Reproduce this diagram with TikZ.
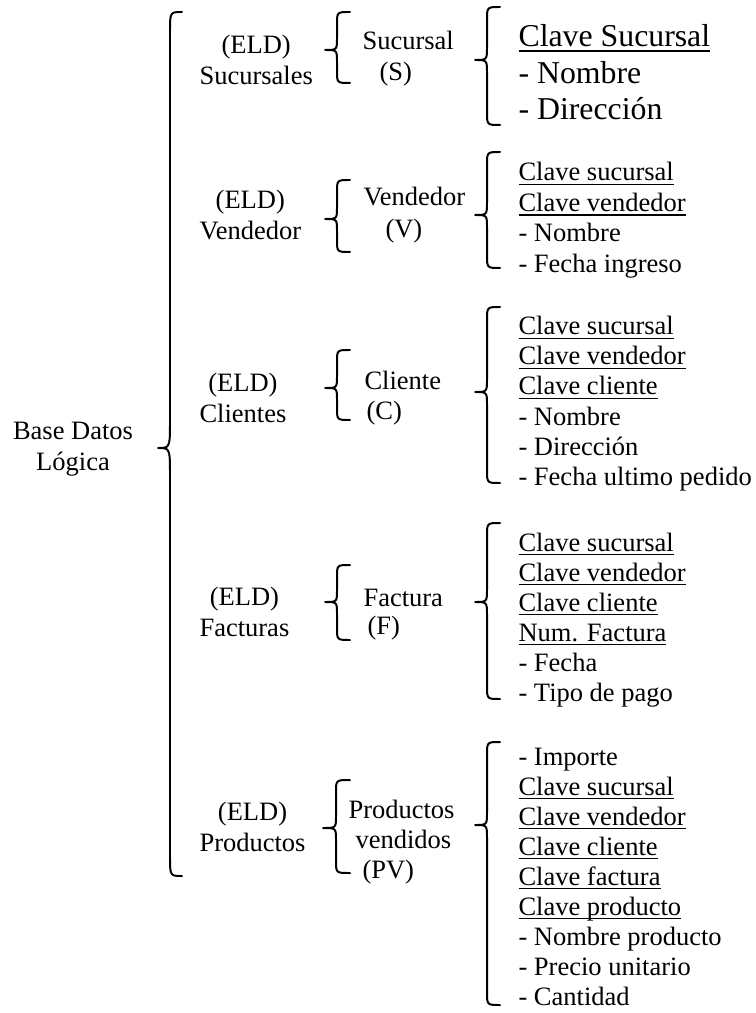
\documentclass[tikz,border=0pt]{standalone}
\usepackage{fontspec}
\setmainfont{Liberation Serif}
\newcommand\ulin[1]{\setbox0\hbox{#1}\rlap{\rule[-0.16em]{\wd0}{0.055em}}\box0}
% brace: xt, xv, xe, ytop, ymid, ybot, rend, rmid
\newcommand\dbrace[8]{%
  \draw[brc] (#3,#4) .. controls (#2,#4) .. (#2,{#4+#7})
    -- (#2,{#5-#8}) .. controls (#2,#5) .. (#1,#5)
    .. controls (#2,#5) .. (#2,{#5+#8})
    -- (#2,{#6-#7}) .. controls (#2,#6) .. (#3,#6);}
\tikzset{
  brc/.style={line width=0.75pt, line join=round, line cap=round},
  txt/.style={inner sep=0pt, font=\fontsize{10}{11.5}\selectfont},
  big/.style={inner sep=0pt, font=\fontsize{12}{13.8}\selectfont, anchor=base west},
  lbl/.style={txt, align=center, anchor=west},
  item/.style={txt, anchor=base west},
}
\begin{document}
\begin{tikzpicture}[x=0.37736pt, y=-0.37736pt]
\useasboundingbox (0,0) rectangle (756,1013);

% root
\node[txt, align=center] (root) at (73,449) {Base Datos\\Lógica};
\dbrace{158}{170}{182}{12}{448}{876}{20}{28}

% level 2 labels
\node[lbl] (l2s) at (199,60) {(ELD)\\Sucursales};
\node[lbl] (l2v) at (199,215) {(ELD)\\Vendedor};
\node[lbl] (l2c) at (199,398) {(ELD)\\Clientes};
\node[lbl] (l2f) at (199,612) {(ELD)\\Facturas};
\node[lbl] (l2p) at (199,827) {(ELD)\\Productos};

% level 2 braces
\dbrace{325}{337}{350}{12}{50}{83}{12}{12}
\dbrace{325}{337}{350}{180}{219}{252}{12}{12}
\dbrace{325}{337}{350}{350}{388}{420}{12}{12}
\dbrace{325}{337}{350}{565}{602}{640}{12}{12}
\dbrace{323}{336}{350}{780}{828}{873}{12}{12}

% level 3 labels
\node[item] (s1) at (362,50) {Sucursal};
\node[item] (s2) at (379,81) {(S)};
\node[item] (v1) at (363,206) {Vendedor};
\node[item] (v2) at (385,238) {(V)};
\node[item] (c1) at (364,390) {Cliente};
\node[item] (c2) at (366,420) {(C)};
\node[item] (f1) at (363,606) {Factura};
\node[item] (f2) at (367,634) {(F)};
\node[item] (p1) at (348,818) {Productos};
\node[item] (p2) at (355,848) {vendidos};
\node[item] (p3) at (362,878) {(PV)};

% level 3 braces
\dbrace{475}{487}{500}{7}{60}{125}{13}{13}
\dbrace{475}{487}{500}{152}{215}{268}{13}{13}
\dbrace{475}{487}{500}{307}{392}{483}{13}{13}
\dbrace{475}{487}{500}{523}{602}{699}{13}{13}
\dbrace{475}{487}{500}{742}{825}{1005}{13}{13}

% attribute lists
\node[big] (as1) at (518,47) {\ulin{Clave Sucursal}};
\node[big] (as2) at (518,83.5) {- Nombre};
\node[big] (as3) at (518,120) {- Dirección};

\foreach \t/\u [count=\i from 0] in {Clave sucursal/1, Clave vendedor/1, - Nombre/0, - Fecha ingreso/0}
  \node[item] (av\i) at (518,{181+30.5*\i}) {\ifnum\u=1 \ulin{\t}\else\t\fi};

\foreach \t/\u [count=\i from 0] in {Clave sucursal/1, Clave vendedor/1, Clave cliente/1, - Nombre/0, - Dirección/0, - Fecha ultimo pedido/0}
  \node[item] (ac\i) at (518,{335+30*\i}) {\ifnum\u=1 \ulin{\t}\else\t\fi};

\foreach \t/\u [count=\i from 0] in {Clave sucursal/1, Clave vendedor/1, Clave cliente/1, Num. Factura/1, - Fecha/0, - Tipo de pago/0}
  \node[item] (af\i) at (518,{551+30*\i}) {\ifnum\u=1 \ulin{\t}\else\t\fi};

\foreach \t/\u [count=\i from 0] in {- Importe/0, Clave sucursal/1, Clave vendedor/1, Clave cliente/1, Clave factura/1, Clave producto/1, - Nombre producto/0, - Precio unitario/0, - Cantidad/0}
  \node[item] (ap\i) at (518,{765+30*\i}) {\ifnum\u=1 \ulin{\t}\else\t\fi};
\end{tikzpicture}
\end{document}
